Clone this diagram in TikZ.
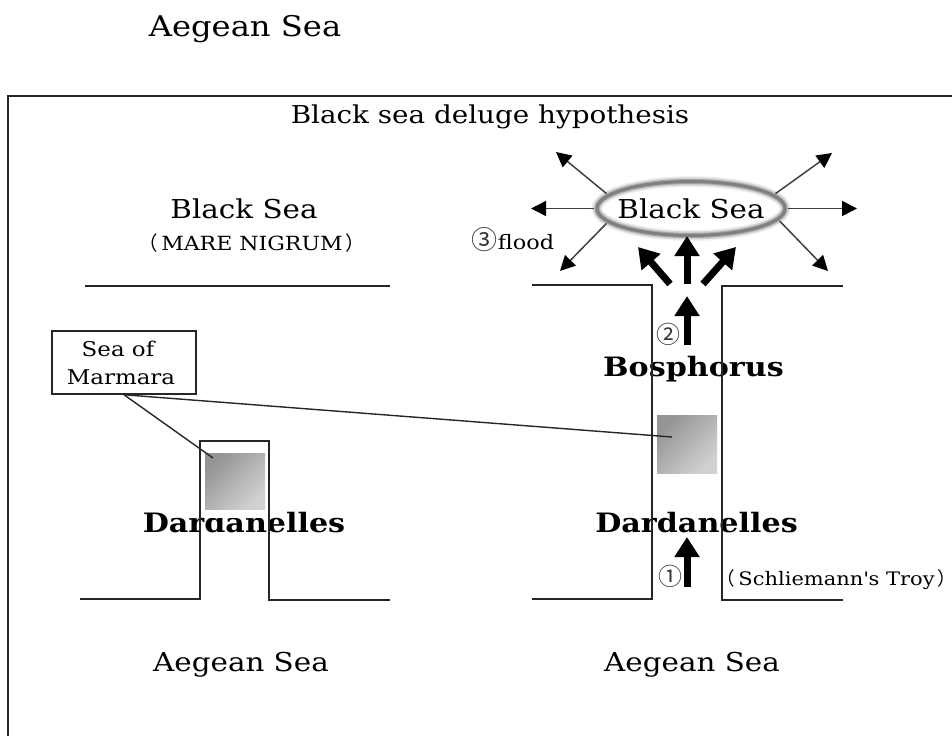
\documentclass[tikz,border=0pt]{standalone}
\usepackage{fontspec}
\usepackage{tikz}
\usetikzlibrary{arrows.meta,shapes.geometric}
\setmainfont[FakeStretch=1.13]{DejaVu Serif}
\newfontfamily\cjkfont{Noto Sans CJK JP}
\tikzset{
  label/.style={inner sep=0pt, align=center, font=\fontsize{26}{30}\selectfont},
  smalllabel/.style={inner sep=0pt, font=\fontsize{18.6}{22}\selectfont},
  steplabel/.style={inner sep=0pt, black!80, font=\cjkfont\fontsize{24}{28}\selectfont},
  strait/.style={inner sep=0pt, font=\fontsize{26.7}{30}\selectfont\bfseries},
  coast/.style={black!85, line width=1.5pt},
  marmarasq/.style={draw=none, inner sep=0pt, minimum width=60pt, minimum height=58pt, shading=axis, top color=black!42, bottom color=black!18, shading angle=45},
  bigarrow/.style={line width=7pt, -{Triangle[width=24pt,length=20pt]}},
  floodarrow/.style={black!75, line width=1.5pt, -{Triangle[width=15pt,length=15pt,color=black]}}
}
\begin{document}
\begin{tikzpicture}[x=1pt, y=-1pt]
\useasboundingbox (0,0) rectangle (952,736);
% --- Heading and frame ---
\node[label, font=\fontsize{28.5}{32}\selectfont] (topsea) at (245,29) {Aegean Sea};
\draw[coast] (8,736) -- (8,96) -- (952,96);
\node[label, font=\fontsize{24.6}{28}\selectfont] (title) at (490,117) {Black sea deluge hypothesis};

% --- Left: before the flood ---
\node[label] (blackleft) at (244,209) {Black Sea};
\node[smalllabel, font=\fontsize{19.5}{22}\selectfont] (nigrum) at (252,243) {{\cjkfont （}\,MARE NIGRUM\,{\cjkfont ）}};
\node[strait] (dardleft) at (244,523) {Dardanelles};
\node[label] (aegeanleft) at (241,665) {Aegean Sea};
% square hides the top of the d
\fill[white] (204,450) rectangle (266,518);
\node[marmarasq, minimum height=56pt] (squareleft) at (235,481) {};
\draw[coast] (85,286) -- (390,286);
\draw[coast] (80,599) -- (200,599) -- (200,441) -- (269,441) -- (269,600) -- (390,600);

% --- Right: after the flood ---
\node[marmarasq] (squareright) at (687,444) {};
\node[strait] (bosphorus) at (693.5,369) {Bosphorus};
\node[strait] (dardright) at (696.5,523) {Dardanelles};
\node[label] (aegeanright) at (692,665) {Aegean Sea};
\draw[coast] (532,285) -- (652,285) -- (652,599) -- (532,599);
\draw[coast] (843,286) -- (722,286) -- (722,600) -- (843,600);
\node[smalllabel] (troy) at (832,580) {{\cjkfont （}\,Schliemann\textquotesingle s Troy\,{\cjkfont ）}\hspace*{-9pt}};

% Black Sea with blurred rim
\foreach \w/\c in {11/6, 8/18, 5/35, 3/50}
  \draw[black!\c, line width=\w pt] (691,208.5) ellipse (94 and 27);
\node[label, ellipse, inner ysep=0pt, inner xsep=-30pt, minimum width=194pt, minimum height=60pt] (blackright) at (691,208.5) {Black Sea};

% flow through the straits
\coordinate (flowa) at (687,587);
\coordinate (flowb) at (687,537);
\coordinate (flowc) at (687,345);
\coordinate (flowd) at (687,296);
\draw[bigarrow] (flowa) -- (flowb);
\draw[bigarrow] (flowc) -- (flowd);
\node[steplabel] (stepone) at (670,576) {①};
\node[steplabel] (steptwo) at (668,334) {②};
\foreach \n/\s/\t in {fanl/670/638, fanc/687/687, fanr/703/736} {
  \coordinate (\n a) at (\s,284);
  \coordinate (\n b) at (\t,\ifnum\t=687 236\else 247\fi);
  \draw[bigarrow] (\n a) -- (\n b);
}

% flood arrows
\foreach \n/\a/\x/\y in {ul/170/556/152, ml/180/531/208.5, ll/190/560/271, ur/10/832/153, mr/0/857/208.5, lr/352/828/271} {
  \coordinate (flood\n) at (\x,\y);
  \draw[floodarrow] (blackright.\a) -- (flood\n);
}
\node[smalllabel, font=\fontsize{19.8}{22}\selectfont] (flood) at (513,240) {{\cjkfont\color{black!80}\fontsize{26}{28}\selectfont ③}flood};

% --- Sea of Marmara label ---
\node[draw=black!85, line width=1.5pt, minimum width=144pt, minimum height=63pt, inner sep=0pt, align=center, font=\fontsize{20.3}{28}\selectfont] (marmara) at (124,362.5) {Sea of\hspace*{12pt}\\Marmara\hspace*{6pt}};
\coordinate (marmaraleft) at (213,458);
\coordinate (marmararight) at (672,437);
\draw[black!85, line width=1.4pt] (marmara.south) -- (marmaraleft);
\draw[black!85, line width=1.4pt] (marmara.south) -- (marmararight);
\end{tikzpicture}
\end{document}
